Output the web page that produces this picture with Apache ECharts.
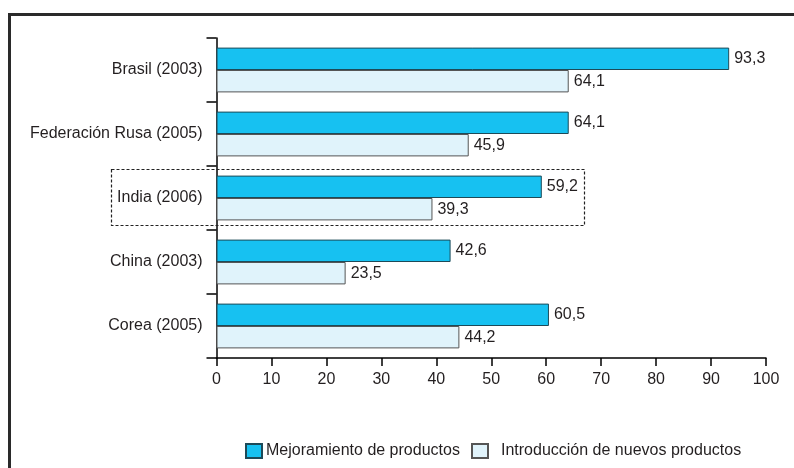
<!DOCTYPE html>
<html>
<head>
<meta charset="utf-8">
<script src="https://cdn.jsdelivr.net/npm/echarts@6/dist/echarts.min.js"></script>
<style>
html,body{margin:0;padding:0;background:#fff;}
#c{width:794px;height:468px;}
</style>
</head>
<body>
<div id="c"></div>
<script>
const categories = ['Brasil (2003)', 'Federación Rusa (2005)', 'India (2006)', 'China (2003)', 'Corea (2005)'];
const seriesNames = ['Mejoramiento de productos', 'Introducción de nuevos productos'];
const mejoramiento = [93.3, 64.1, 59.2, 42.6, 60.5];
const introduccion = [64.1, 45.9, 39.3, 23.5, 44.2];
const xTicks = [0, 10, 20, 30, 40, 50, 60, 70, 80, 90, 100];

const FONT = 'Liberation Sans, Arial, sans-serif';
const TXT = '#231f20';
const FS = 16;

const chart = echarts.init(document.getElementById('c'), null, {renderer: 'canvas'});
const fmt = p => String(p.value).replace('.', ',');

chart.setOption({
  animation: false,
  backgroundColor: '#ffffff',
  grid: {left: 216.5, right: 28, top: 38, bottom: 110, containLabel: false},
  xAxis: {
    type: 'value',
    min: xTicks[0],
    max: xTicks[xTicks.length - 1],
    interval: 10,
    axisLine: {show: true, lineStyle: {color: '#000', width: 1.5}},
    axisTick: {show: true, length: 8, lineStyle: {color: '#000', width: 1.5}},
    axisLabel: {color: TXT, fontFamily: FONT, fontSize: FS, margin: 14},
    splitLine: {show: false}
  },
  yAxis: {
    type: 'category',
    data: categories,
    inverse: true,
    axisLine: {show: true, lineStyle: {color: '#000', width: 1.5}},
    axisTick: {show: true, length: 10, lineStyle: {color: '#000', width: 1.5}},
    axisLabel: {color: TXT, fontFamily: FONT, fontSize: FS, margin: 14}
  },
  legend: [
    {
      left: 245, top: 443, padding: 0,
      itemWidth: 16, itemHeight: 14,
      icon: 'rect',
      textStyle: {color: TXT, fontFamily: FONT, fontSize: FS, padding: [0, 0, 0, -1]},
      data: [seriesNames[0]]
    },
    {
      left: 471, top: 443, padding: 0,
      itemWidth: 16, itemHeight: 14,
      icon: 'rect',
      textStyle: {color: TXT, fontFamily: FONT, fontSize: FS, padding: [0, 0, 0, 8]},
      data: [seriesNames[1]]
    }
  ],
  series: [
    {
      name: seriesNames[0], type: 'bar', data: mejoramiento,
      barGap: '0%', barCategoryGap: '30%',
      itemStyle: {color: '#17c1f1', borderColor: '#1d4a58', borderWidth: 1},
      label: {show: true, position: 'right', distance: 5, formatter: fmt, color: TXT, fontFamily: FONT, fontSize: FS}
    },
    {
      name: seriesNames[1], type: 'bar', data: introduccion,
      itemStyle: {color: '#e0f3fb', borderColor: '#555555', borderWidth: 1},
      label: {show: true, position: 'right', distance: 5, formatter: fmt, color: TXT, fontFamily: FONT, fontSize: FS}
    }
  ],
  graphic: [
    {type: 'polyline', shape: {points: [[9.5, 470], [9.5, 14.5], [796, 14.5]]}, style: {stroke: '#2a2a2a', lineWidth: 3, fill: null}, z: 100},
    {type: 'rect', shape: {x: 111.5, y: 169.5, width: 473, height: 56}, style: {stroke: '#222', lineWidth: 1.2, lineDash: [3, 2], fill: null}, z: 100}
  ]
});
</script>
</body>
</html>
